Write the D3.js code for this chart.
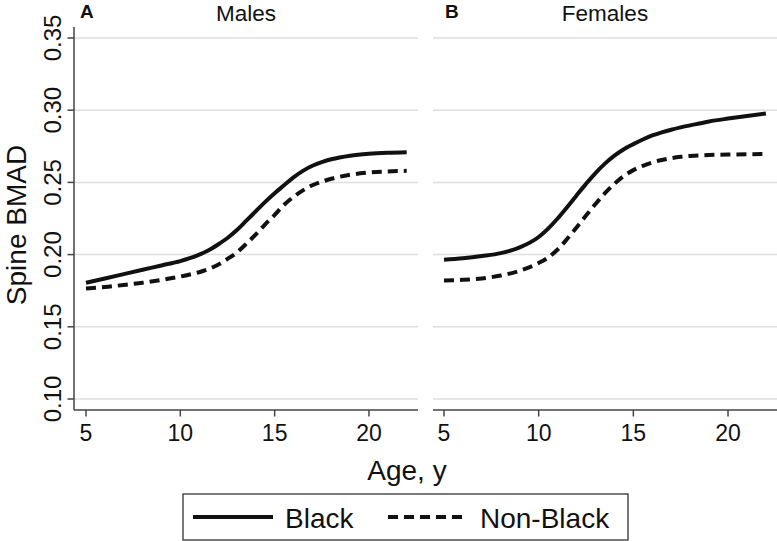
<!DOCTYPE html>
<html>
<head>
<meta charset="utf-8">
<script src="https://cdn.jsdelivr.net/npm/d3@7/dist/d3.min.js"></script>
<style>
  html, body { margin: 0; padding: 0; background: #fff; }
  svg { display: block; font-family: "Liberation Sans", Arial, Helvetica, sans-serif; }
</style>
</head>
<body>
<svg id="chart" width="777" height="541"></svg>
<script>
// ---- data ----
const ages = [5, 6, 7, 8, 9, 10, 10.5, 11, 11.5, 12, 12.5, 13, 13.5, 14, 14.5, 15, 15.5, 16, 16.5, 17, 17.5, 18, 19, 20, 21, 22];
const malesBlack    = [0.1805, 0.1835, 0.1865, 0.1895, 0.1925, 0.1955, 0.1975, 0.2000, 0.2030, 0.2070, 0.2115, 0.2170, 0.2235, 0.2300, 0.2365, 0.2425, 0.2480, 0.2535, 0.2580, 0.2615, 0.2640, 0.2660, 0.2685, 0.2698, 0.2705, 0.2709];
const malesNonBlack = [0.1765, 0.1775, 0.1790, 0.1805, 0.1825, 0.1848, 0.1862, 0.1878, 0.1900, 0.1930, 0.1970, 0.2015, 0.2075, 0.2140, 0.2210, 0.2275, 0.2345, 0.2400, 0.2445, 0.2480, 0.2505, 0.2525, 0.2553, 0.2568, 0.2576, 0.2580];
const femalesBlack    = [0.1965, 0.1975, 0.1990, 0.2010, 0.2050, 0.2122, 0.2180, 0.2250, 0.2328, 0.2410, 0.2490, 0.2565, 0.2630, 0.2685, 0.2730, 0.2765, 0.2797, 0.2825, 0.2847, 0.2865, 0.2881, 0.2895, 0.2922, 0.2942, 0.2960, 0.2977];
const femalesNonBlack = [0.1820, 0.1825, 0.1835, 0.1855, 0.1888, 0.1942, 0.1980, 0.2035, 0.2108, 0.2188, 0.2270, 0.2350, 0.2425, 0.2490, 0.2545, 0.2585, 0.2615, 0.2638, 0.2655, 0.2668, 0.2677, 0.2683, 0.2690, 0.2693, 0.2695, 0.2696];
const xTicks = [5, 10, 15, 20];
const yTicks = [0.10, 0.15, 0.20, 0.25, 0.30, 0.35];
const panelTitles = ["Males", "Females"];
const panelLetters = ["A", "B"];
const seriesNames = ["Black", "Non-Black"];

// ---- layout ----
const svg = d3.select("#chart");
const yTop = 27, yBottom = 410;
const y = d3.scaleLinear().domain([0.10, 0.35]).range([399, 38]);

const panels = [
  { title: panelTitles[0], letter: panelLetters[0], x0: 74, x1: 418, range: [86, 406.7], letterX: 80, series: [malesBlack, malesNonBlack], yAxis: true },
  { title: panelTitles[1], letter: panelLetters[1], x0: 433, x1: 777, range: [444, 765.9], letterX: 445, series: [femalesBlack, femalesNonBlack], yAxis: false }
];

const styles = [
  { dash: null },
  { dash: "10,6" }
];

panels.forEach(p => {
  const x = d3.scaleLinear().domain([5, 22]).range(p.range);
  const g = svg.append("g");

  // gridlines
  g.selectAll("line.grid").data(yTicks).enter().append("line")
    .attr("x1", p.x0).attr("x2", p.x1)
    .attr("y1", d => y(d)).attr("y2", d => y(d))
    .attr("stroke", "#dedede").attr("stroke-width", 1.5);

  // x axis
  g.append("line").attr("x1", p.x0).attr("x2", p.x1).attr("y1", yBottom).attr("y2", yBottom)
    .attr("stroke", "#444").attr("stroke-width", 1.5);
  g.selectAll("line.xt").data(xTicks).enter().append("line")
    .attr("x1", d => x(d)).attr("x2", d => x(d)).attr("y1", yBottom).attr("y2", yBottom + 6.5)
    .attr("stroke", "#444").attr("stroke-width", 1.5);
  g.selectAll("text.xt").data(xTicks).enter().append("text")
    .attr("x", d => x(d)).attr("y", 441)
    .attr("text-anchor", "middle").attr("font-size", 23).attr("fill", "#111")
    .text(d => d);

  // y axis
  if (p.yAxis) {
    g.append("line").attr("x1", p.x0).attr("x2", p.x0).attr("y1", yTop).attr("y2", yBottom)
      .attr("stroke", "#444").attr("stroke-width", 1.5);
    g.selectAll("line.yt").data(yTicks).enter().append("line")
      .attr("x1", p.x0 - 6.5).attr("x2", p.x0).attr("y1", d => y(d)).attr("y2", d => y(d))
      .attr("stroke", "#444").attr("stroke-width", 1.5);
    g.selectAll("text.yt").data(yTicks).enter().append("text")
      .attr("transform", d => `translate(61,${y(d)}) rotate(-90)`)
      .attr("text-anchor", "middle").attr("font-size", 24).attr("fill", "#111")
      .text(d => d3.format(".2f")(d));
  }

  // titles
  g.append("text").attr("x", (p.x0 + p.x1) / 2).attr("y", 20.5)
    .attr("text-anchor", "middle").attr("font-size", 22.5).attr("fill", "#111").text(p.title);
  g.append("text").attr("x", p.letterX).attr("y", 17.5)
    .attr("font-size", 19).attr("font-weight", "bold").attr("fill", "#111").text(p.letter);

  // curves
  const line = d3.line().x((d, i) => x(ages[i])).y(d => y(d)).curve(d3.curveMonotoneX);
  p.series.forEach((s, si) => {
    g.append("path").datum(s).attr("d", line)
      .attr("fill", "none").attr("stroke", "#111").attr("stroke-width", 4)
      .attr("stroke-dasharray", styles[si].dash);
  });
});

// axis titles
svg.append("text").attr("transform", "translate(26,225) rotate(-90)")
  .attr("text-anchor", "middle").attr("font-size", 28).attr("fill", "#111").text("Spine BMAD");
svg.append("text").attr("x", 407).attr("y", 480)
  .attr("text-anchor", "middle").attr("font-size", 28).attr("fill", "#111").text("Age, y");

// legend
const lg = svg.append("g");
lg.append("rect").attr("x", 183).attr("y", 494).attr("width", 445).attr("height", 46)
  .attr("fill", "#fff").attr("stroke", "#333").attr("stroke-width", 1.3);
const legendItems = [
  { name: seriesNames[0], lx: 193, tx: 285, dash: styles[0].dash },
  { name: seriesNames[1], lx: 388, tx: 480, dash: styles[1].dash }
];
legendItems.forEach(it => {
  lg.append("line").attr("x1", it.lx).attr("x2", it.lx + 80).attr("y1", 517).attr("y2", 517)
    .attr("stroke", "#111").attr("stroke-width", 4).attr("stroke-dasharray", it.dash);
  lg.append("text").attr("x", it.tx).attr("y", 528).attr("font-size", 28).attr("fill", "#111").text(it.name);
});
</script>
</body>
</html>
